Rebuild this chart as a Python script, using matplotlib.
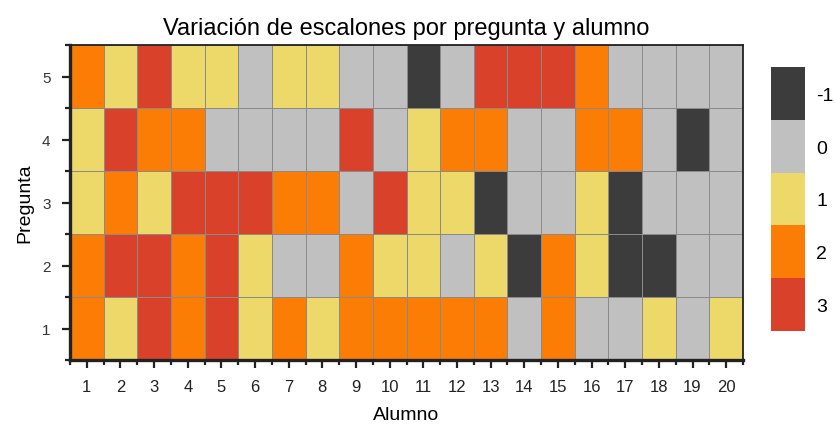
import numpy as np
import matplotlib
matplotlib.use("Agg")
import matplotlib.pyplot as plt
from matplotlib.colors import ListedColormap, BoundaryNorm
from matplotlib.ticker import MultipleLocator

plt.rcParams['font.family'] = ['Liberation Sans', 'DejaVu Sans']

alumnos = list(range(1, 21))
preguntas = [1, 2, 3, 4, 5]

# Step variation per question (rows: pregunta 1..5), per student (columns 1..20)
pregunta_1 = [2, 1, 3, 2, 3, 1, 2, 1, 2, 2, 2, 2, 2, 0, 2, 0, 0, 1, 0, 1]
pregunta_2 = [2, 3, 3, 2, 3, 1, 0, 0, 2, 1, 1, 0, 1, -1, 2, 1, -1, -1, 0, 0]
pregunta_3 = [1, 2, 1, 3, 3, 3, 2, 2, 0, 3, 1, 1, -1, 0, 0, 1, -1, 0, 0, 0]
pregunta_4 = [1, 3, 2, 2, 0, 0, 0, 0, 3, 0, 1, 2, 2, 0, 0, 2, 2, 0, -1, 0]
pregunta_5 = [2, 1, 3, 1, 1, 0, 1, 1, 0, 0, -1, 0, 3, 3, 3, 2, 0, 0, 0, 0]

niveles = [-1, 0, 1, 2, 3]
colores = ['#3c3c3c', '#c0c0c0', '#ecd96a', '#fb7d05', '#d9412b']

valores = np.array([pregunta_1, pregunta_2, pregunta_3, pregunta_4, pregunta_5])

cmap = ListedColormap(colores)
norm = BoundaryNorm(np.arange(niveles[0] - 0.5, niveles[-1] + 1.0, 1.0), cmap.N)

fig = plt.figure(figsize=(8.35, 4.31), dpi=100)
ax = fig.add_axes([70 / 835, 70 / 431, 673 / 835, 315 / 431])

xe = np.arange(alumnos[0] - 0.5, alumnos[-1] + 1.0, 1.0)
ye = np.arange(preguntas[0] - 0.5, preguntas[-1] + 1.0, 1.0)
ax.pcolormesh(xe, ye, valores, cmap=cmap, norm=norm,
              edgecolors='#8a8a8a', linewidth=0.4)

ax.set_xlim(xe[0], xe[-1])
ax.set_ylim(ye[0], ye[-1])
ax.set_xticks(alumnos)
ax.set_yticks(preguntas)
ax.xaxis.set_minor_locator(MultipleLocator(0.5))
ax.yaxis.set_minor_locator(MultipleLocator(0.5))
ax.tick_params(axis='both', which='major', direction='out', length=6, width=1.6,
               color='#222222')
ax.tick_params(axis='both', which='minor', direction='out', length=3.5, width=1.6,
               color='#222222')
ax.tick_params(axis='x', which='major', labelsize=12, pad=8, labelcolor='#222222')
ax.tick_params(axis='y', which='major', labelsize=11, pad=8, labelcolor='#333333')

for side in ['left', 'bottom']:
    ax.spines[side].set_linewidth(2.4)
for side in ['top', 'right']:
    ax.spines[side].set_linewidth(1.3)
for s in ax.spines.values():
    s.set_color('#222222')

ax.set_xlabel('Alumno', fontsize=14, labelpad=8)
ax.set_ylabel('Pregunta', fontsize=14, labelpad=6)
ax.set_title('Variación de escalones por pregunta y alumno', fontsize=17, pad=8)

# Discrete legend bar
cax = fig.add_axes([771 / 835, (431 - 332) / 431, 34 / 835, 264 / 431])
cb_vals = np.array(niveles)[::-1].reshape(-1, 1)
cax.pcolormesh([0, 1], np.arange(len(niveles) + 1), cb_vals, cmap=cmap, norm=norm)
cax.set_xlim(0, 1)
cax.set_ylim(0, len(niveles))
cax.set_xticks([])
cax.yaxis.tick_right()
cax.set_yticks(np.arange(len(niveles)) + 0.5)
cax.set_yticklabels([str(v) for v in niveles[::-1]], fontsize=14)
cax.tick_params(axis='y', length=0, pad=8)
for s in cax.spines.values():
    s.set_visible(False)

fig.savefig('out.png', dpi=100)
